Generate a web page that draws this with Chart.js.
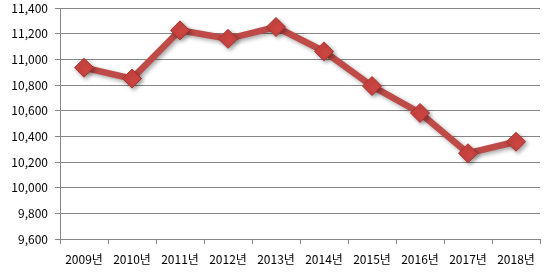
<!DOCTYPE html>
<html><head><meta charset="utf-8">
<script src="https://cdn.jsdelivr.net/npm/chart.js@4"></script>
<style>html,body{margin:0;padding:0;background:#fff}#wrap{width:547px;height:275px}</style>
</head><body><div id="wrap"><canvas id="c" width="547" height="275"></canvas></div>
<script>
const categories = ['2009년','2010년','2011년','2012년','2013년','2014년','2015년','2016년','2017년','2018년'];
const values = [10935, 10850, 11226, 11160, 11252, 11062, 10792, 10582, 10268, 10358];
const yMin = 9600, yMax = 11400, yStep = 200;

const shadowPlugin = {
  id: 'shadow',
  beforeDatasetsDraw(chart) { const c = chart.ctx; c.save(); c.shadowColor = 'rgba(0,0,0,0.35)'; c.shadowBlur = 4; c.shadowOffsetX = 2; c.shadowOffsetY = 2; },
  afterDatasetsDraw(chart) { chart.ctx.restore(); }
};

new Chart(document.getElementById('c'), {
  type: 'line',
  data: { labels: categories, datasets: [{
    data: values,
    borderColor: '#BE4B48',
    borderWidth: 6.5,
    pointStyle: 'rectRot',
    pointRadius: 9.5,
    pointBackgroundColor: '#CC4541',
    pointBorderColor: '#A8302D',
    pointBorderWidth: 1,
    tension: 0,
    clip: false
  }]},
  plugins: [shadowPlugin],
  options: {
    responsive: false, animation: false,
    layout: { autoPadding: false, padding: { top: 8, right: 7, left: 0, bottom: 0 } },
    plugins: { legend: { display: false }, tooltip: { enabled: false } },
    scales: {
      x: {
        offset: true,
        grid: { offset: true, drawOnChartArea: false, drawTicks: true, tickLength: 5, color: '#868686' },
        border: { color: '#868686', width: 1 },
        ticks: { color: '#000', font: { family: 'Noto Sans CJK KR', size: 12 }, padding: 8, maxRotation: 0 },
        afterFit(s) { s.height = 36; s.paddingLeft = 0; s.paddingRight = 0; }
      },
      y: {
        min: yMin, max: yMax,
        grid: { color: '#868686', tickLength: 5 },
        border: { color: '#868686', width: 1 },
        ticks: { stepSize: yStep, color: '#000', font: { family: 'Noto Sans CJK KR', size: 12 }, padding: 7,
          callback: v => v.toLocaleString('en-US') },
        afterFit(s) { s.width = 60; s.paddingTop = 0; s.paddingBottom = 0; }
      }
    }
  }
});
</script></body></html>
